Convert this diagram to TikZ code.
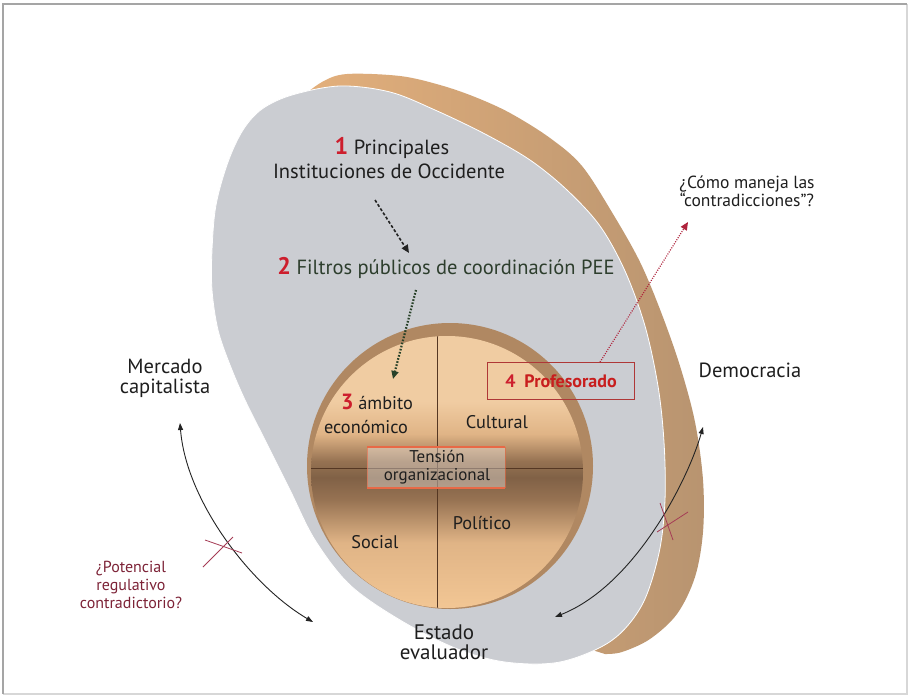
\documentclass[tikz,border=0pt]{standalone}
\usepackage{fontspec}
\setmainfont{PT Sans}
\usetikzlibrary{arrows.meta}
\definecolor{grayface}{RGB}{203,205,210}
\definecolor{rimA}{RGB}{228,176,124}
\definecolor{rimB}{RGB}{184,148,112}
\definecolor{txt}{RGB}{30,30,30}
\definecolor{numred}{RGB}{205,30,45}
\definecolor{filgreen}{RGB}{45,62,45}
\definecolor{maroon}{RGB}{125,35,55}
\definecolor{crossc}{RGB}{165,60,85}
\definecolor{arrowred}{RGB}{175,35,60}
\definecolor{profred}{RGB}{200,30,30}
\definecolor{boxred}{RGB}{175,55,55}
\definecolor{dl}{RGB}{240,204,162}
\definecolor{dlb}{RGB}{242,198,148}
\definecolor{dm}{RGB}{224,180,134}
\definecolor{dd}{RGB}{150,114,82}
\definecolor{ddd}{RGB}{128,97,70}
\definecolor{crest}{RGB}{176,136,98}
\definecolor{qline}{RGB}{85,55,35}
\definecolor{tensbar}{RGB}{232,105,70}
\definecolor{framec}{RGB}{165,165,165}
\definecolor{framel}{RGB}{215,215,215}
\definecolor{arrk}{RGB}{35,35,35}
\definecolor{greenarr}{RGB}{40,65,40}
\pgfdeclareverticalshading{discshade}{100bp}{color(0bp)=(dlb); color(25bp)=(dlb); color(37bp)=(dm); color(45bp)=(dd); color(49bp)=(ddd); color(52bp)=(dd); color(57bp)=(dm); color(63bp)=(dl); color(75bp)=(dl); color(100bp)=(dl)}
\def\grayshape{plot[smooth cycle, tension=0.55] coordinates {(292,95) (340,86) (390,92) (435,110) (485,134) (530,160) (567,190) (600,226) (625,271) (645,326) (658,386) (664,442) (665,500) (659,553) (642,605) (611,641) (560,662) (505,662) (455,648) (400,620) (350,585) (315,540) (290,490) (265,440) (245,400) (230,365) (218,330) (212,290) (212,250) (216,205) (228,162) (243,130) (262,109)}}
\tikzset{
  lbl/.style={font=\fontsize{20.5}{23}\selectfont, text=txt, align=center, inner sep=0pt},
  smalllbl/.style={font=\fontsize{17.5}{18}\selectfont, text=txt, align=center, inner sep=0pt},
  quad/.style={font=\fontsize{18.3}{25}\selectfont, text=txt, align=center, inner sep=0pt},
  dasharr/.style={draw=arrk, line width=1.6pt, dash pattern=on 3pt off 2pt, -{Triangle[length=8pt,width=7pt]}},
  dotarr/.style={draw=greenarr, line width=2.2pt, dash pattern=on 1.6pt off 1.6pt, -{Triangle[length=8pt,width=7pt]}},
  redarr/.style={draw=arrowred, line width=1.2pt, dash pattern=on 1pt off 1.4pt, -{Triangle[length=8pt,width=7pt]}},
  curvarr/.style={draw=arrk, line width=0.9pt, {Triangle[length=7pt,width=5pt]}-{Triangle[length=7pt,width=5pt]}},
  crossln/.style={draw=crossc, line width=0.8pt}
}
\newcommand{\rednum}[1]{\textcolor{numred}{\bfseries\fontsize{24}{24}\selectfont #1}}
\begin{document}
\begin{tikzpicture}[x=1pt,y=-1pt]
\useasboundingbox (0,0) rectangle (908,696);
\fill[white] (0,0) rectangle (908,696);
\draw[framel, line width=1.2pt] (3,694) -- (907,694) -- (907,4);
\draw[framec, line width=1.5pt] (3,694) -- (3,4) -- (907,4);
% rim (back face)
\shade[left color=rimA, right color=rimB]
  plot[smooth, tension=0.55] coordinates {(298,100) (322,82) (347,74) (400,76) (440,85) (475,97) (510,113) (550,138) (582,166) (613,214) (640,262) (661,312) (680,366) (695,422) (703,480) (703,532) (695,577) (677,614) (650,639) (622,652) (605,654)}
  -- (560,640) -- (450,400) -- (300,110) -- cycle;
% gray face
\fill[grayface] \grayshape;
\draw[white, line width=0.8pt] \grayshape;
% disc
\fill[crest] (450,466) circle (143);
\shade[shading=discshade] (447,472) circle (136);
\begin{scope}
  \clip (447,472) circle (136);
  \draw[qline, line width=0.9pt] (437,300) -- (437,640);
  \draw[qline, line width=0.9pt] (290,468) -- (600,468);
\end{scope}
% tension box
\fill[white, opacity=0.35] (367,447) rectangle (505,488);
\draw[tensbar, line width=0.6pt, opacity=0.6] (367,447) -- (367,488) (505,447) -- (505,488);
\draw[tensbar, line width=2pt] (367,447) -- (505,447) (367,488) -- (505,488);
\node[font=\fontsize{17}{18}\selectfont, text=txt, align=center, inner sep=0pt] (tens) at (437,467) {Tensión\\organizacional};
% texts
\node[lbl] (n1a) at (392,148) {\rednum{1} Principales};
\node[lbl] (n1b) at (389,171) {Instituciones de Occidente};
\node[lbl, text=filgreen] (n2) at (446,268) {\rednum{2} Filtros públicos de coordinación PEE};
\node[quad] (n3a) at (377,402) {\textcolor{numred}{\bfseries\fontsize{22}{22}\selectfont 3} ámbito};
\node[quad] (n3b) at (366,427) {económico};
\node[quad] (cult) at (497,422) {Cultural};
\node[quad] (poli) at (482,523) {Político};
\node[quad] (soc) at (375,542) {Social};
\node[draw=boxred, line width=0.8pt, minimum width=147pt, minimum height=37pt, inner sep=0pt, font=\fontsize{18}{18}\selectfont] (prof) at (561,381) {\textcolor{numred}{\bfseries 4}\enspace\textcolor{profred}{\bfseries Profesorado}};
\node[smalllbl] (q) at (747,191) {¿Cómo maneja las\\“contradicciones”?};
\node[lbl] (dem) at (750,370) {Democracia};
\node[lbl, font=\fontsize{20.5}{20}\selectfont] (merc) at (165,378) {Mercado\\capitalista};
\node[lbl, font=\fontsize{21}{20}\selectfont] (est) at (444,642) {Estado\\evaluador};
\node[font=\fontsize{16}{18}\selectfont, text=maroon, align=center, inner sep=0pt] (pot) at (131,585) {¿Potencial\\regulativo\\contradictorio?};
% arrows
\coordinate (a1s) at (375,200);
\coordinate (a1e) at (409,253);
\draw[dasharr] (a1s) -- (a1e);
\coordinate (a2s) at (416,290);
\coordinate (a2e) at (393,379);
\draw[dotarr] (a2s) -- (a2e);
\coordinate (qa) at (688,222);
\draw[redarr] ([xshift=39pt]prof.north) -- (qa);
\coordinate (lm) at (180,423);
\coordinate (le) at (313,622);
\draw[curvarr] (lm) .. controls (186,500) and (250,585) .. (le);
\coordinate (rd) at (703,427);
\coordinate (re) at (555,617);
\draw[curvarr] (rd) .. controls (688,480) and (635,585) .. (re);
% crosses
\draw[crossln] (203,567) -- (233,537) (205,540) -- (242,553);
\draw[crossln] (660,503) -- (673,540) (657,532) -- (688,512);
\end{tikzpicture}
\end{document}
